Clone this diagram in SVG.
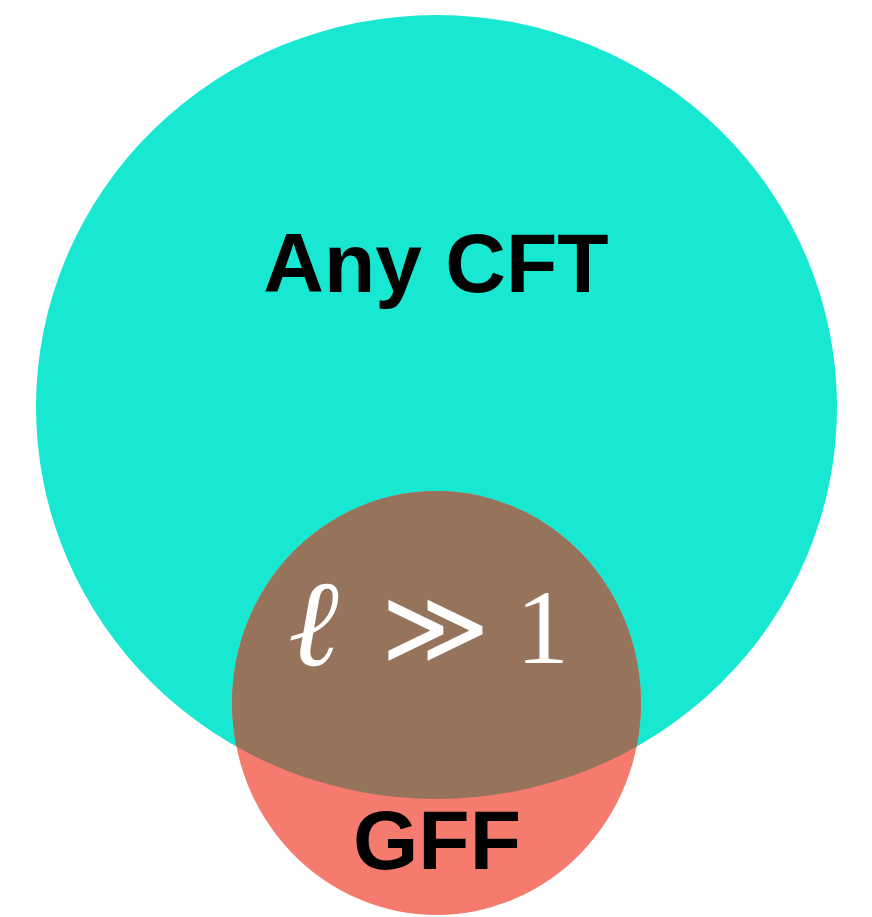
<svg xmlns="http://www.w3.org/2000/svg" width="872" height="917" viewBox="0 0 872 917">
<style>
.lbl{font-family:"Liberation Sans",Arial,sans-serif;font-weight:bold;font-size:84px;fill:#000;text-anchor:middle}
.math{font-family:"Liberation Serif","DejaVu Serif",serif;fill:#fff}
</style>
<defs>
<clipPath id="bigclip"><ellipse cx="436.5" cy="407" rx="400.5" ry="392"/></clipPath>
</defs>
<rect width="872" height="917" fill="#fff"/>
<g id="anycft">
<ellipse cx="436.5" cy="407" rx="400.5" ry="392" fill="#18E8D1"/>
<text class="lbl" x="436" y="292">Any CFT</text>
</g>
<g id="gff">
<ellipse cx="436.5" cy="703" rx="204.5" ry="212" fill="#F47B6E"/>
<text class="lbl" x="437" y="869">GFF</text>
</g>
<g id="overlap">
<ellipse cx="436.5" cy="703" rx="204.5" ry="212" fill="#96735B" clip-path="url(#bigclip)"/>
<text class="math" x="288" y="665" font-size="122" font-style="italic">ℓ</text>
<text class="math" x="381" y="663" font-size="104" font-weight="normal">≫</text>
<text class="math" x="516" y="663" font-size="106">1</text>
</g>
<g id="connectors"/>
</svg>
